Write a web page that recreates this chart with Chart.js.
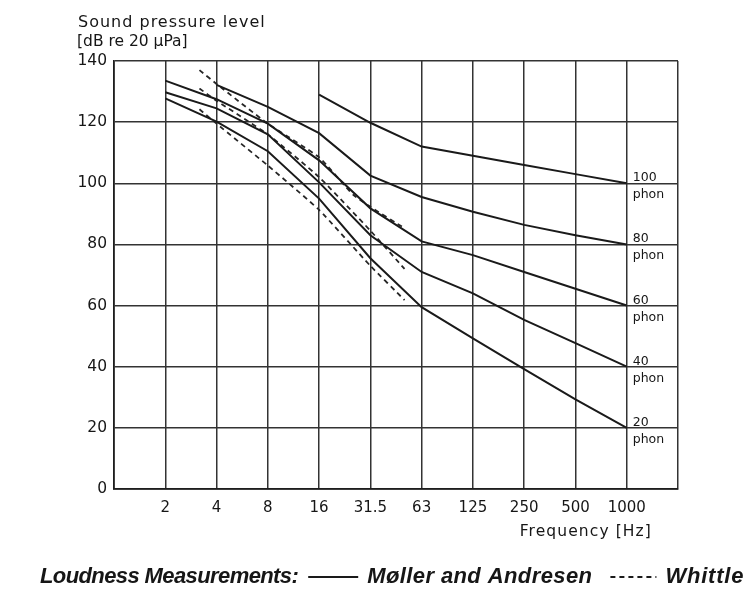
<!DOCTYPE html>
<html>
<head>
<meta charset="utf-8">
<script src="https://cdn.jsdelivr.net/npm/chart.js@4.4.1/dist/chart.umd.min.js"></script>
<style>
  html, body { margin: 0; padding: 0; background: #ffffff; }
  #wrap { width: 750px; height: 590px; position: relative; }
</style>
</head>
<body>
<div id="wrap"><canvas id="c" width="750" height="590"></canvas></div>
<script>
// ---- data ----
const freqTickLabels = ['2', '4', '8', '16', '31.5', '63', '125', '250', '500', '1000'];
const octaveHz = [2, 4, 8, 16, 31.5, 63, 125, 250, 500, 1000];

// Møller and Andresen, equal-loudness contours (dB re 20 µPa), null = not measured
const phon20  = [127.8, 120.2, 110.5, 95.0, 75.5, 59.5, 49.3, 39.2, 29.3, 20.0];
const phon40  = [129.8, 124.5, 116.0, 100.3, 83.0, 71.0, 64.0, 55.3, 47.7, 40.0];
const phon60  = [133.6, 127.5, 119.5, 107.5, 91.8, 81.0, 76.5, 71.0, 65.5, 60.0];
const phon80  = [null, 132.2, 125.0, 116.4, 102.5, 95.5, 90.7, 86.4, 83.0, 80.0];
const phon100 = [null, null, null, 129.0, 119.8, 112.0, 109.0, 106.0, 103.0, 100.0];

// Whittle (dashed), third-octave band frequencies
const whittleHz   = [3.15, 4, 8, 16, 25, 31.5, 50];
const whittleHigh = [137.0, 132.5, 119.5, 108.5, 96.2, 92.3, 85.3];
const whittleMid  = [131.0, 127.0, 116.0, 102.0, null, 84.5, 72.0];
const whittleLow  = [124.2, 119.5, 105.8, 91.3, null, 73.0, 61.8];

const yTickValues = [0, 20, 40, 60, 80, 100, 120, 140];
const phonLevels = [100, 80, 60, 40, 20];

// position on the octave-spaced axis (2 Hz = 1, 4 Hz = 2, ... 1000 Hz = 10)
function bandPos(f) { return 1 + Math.round(3 * Math.log2(f / 2)) / 3; }
function toPoints(freqs, vals) {
  const pts = [];
  freqs.forEach((f, i) => { if (vals[i] !== null) pts.push({ x: bandPos(f), y: vals[i] }); });
  return pts;
}

const INK = '#1a1a1a';
const solid = (label, vals) => ({
  label, data: toPoints(octaveHz, vals), borderColor: INK, borderWidth: 2,
  pointRadius: 0, tension: 0, fill: false
});
const dashed = (label, vals) => ({
  label, data: toPoints(whittleHz, vals), borderColor: '#262626', borderWidth: 1.8,
  borderDash: [5, 4], pointRadius: 0, tension: 0.15, fill: false
});

function spacedText(ctx, text, x, y, ls) {
  ctx.letterSpacing = ls + 'px';
  ctx.fillText(text, x, y);
  const w = ctx.measureText(text).width;
  ctx.letterSpacing = '0px';
  return x + w;
}

const textPlugin = {
  id: 'texts',
  afterDraw(chart) {
    const ctx = chart.ctx;
    const xs = chart.scales.x, ys = chart.scales.y;
    ctx.save();
    ctx.fillStyle = '#161616';
    ctx.textAlign = 'left';
    ctx.textBaseline = 'alphabetic';
    // y axis title (two lines)
    ctx.font = '16px "DejaVu Sans"';
    ctx.letterSpacing = '1px';
    ctx.fillText('Sound pressure level', 78, 27);
    ctx.letterSpacing = '0px';
    ctx.font = '15.5px "DejaVu Sans"';
    ctx.fillText('[dB re 20 \u03bcPa]', 77, 46);
    // x axis title
    ctx.font = '15.5px "DejaVu Sans"';
    ctx.textAlign = 'right';
    ctx.letterSpacing = '1.1px';
    ctx.fillText('Frequency [Hz]', 652, 536);
    ctx.letterSpacing = '0px';
    // phon labels
    ctx.textAlign = 'left';
    ctx.font = '12.5px "DejaVu Sans"';
    const lx = xs.getPixelForValue(10) + 6;
    phonLevels.forEach(p => {
      const py = ys.getPixelForValue(p);
      ctx.fillText(String(p), lx, py - 2);
      ctx.fillText('phon', lx, py + 15);
    });
    // legend
    const ly = 577;
    ctx.font = 'italic bold 22px "Liberation Sans", Arial, sans-serif';
    ctx.textBaseline = 'middle';
    let x = spacedText(ctx, 'Loudness Measurements:', 40, ly, -0.6);
    x += 10;
    ctx.strokeStyle = INK; ctx.lineWidth = 2; ctx.setLineDash([]);
    ctx.beginPath(); ctx.moveTo(x, ly); ctx.lineTo(x + 50, ly); ctx.stroke();
    x += 59;
    x = spacedText(ctx, 'M\u00f8ller and Andresen', x, ly, 0.4);
    x += 18;
    ctx.setLineDash([5, 4]);
    ctx.beginPath(); ctx.moveTo(x, ly); ctx.lineTo(x + 46, ly); ctx.stroke();
    ctx.setLineDash([]);
    x += 55;
    spacedText(ctx, 'Whittle', x, ly, 0.8);
    ctx.restore();
  }
};

new Chart(document.getElementById('c'), {
  type: 'line',
  data: {
    datasets: [
      solid('20 phon', phon20), solid('40 phon', phon40), solid('60 phon', phon60),
      solid('80 phon', phon80), solid('100 phon', phon100),
      dashed('Whittle high', whittleHigh), dashed('Whittle mid', whittleMid), dashed('Whittle low', whittleLow)
    ]
  },
  options: {
    responsive: false,
    animation: false,
    spanGaps: true,
    layout: { padding: { left: 0, right: 72, top: 61, bottom: 0 } },
    plugins: { legend: { display: false }, tooltip: { enabled: false }, title: { display: false } },
    scales: {
      x: {
        type: 'linear', min: 0, max: 11,
        afterFit(s) { s.height = 101; },
        afterBuildTicks(s) { s.ticks = Array.from({ length: 12 }, (_, i) => ({ value: i })); },
        ticks: {
          autoSkip: false, maxRotation: 0, padding: 10, color: '#161616',
          font: { family: 'DejaVu Sans', size: 15 },
          callback: v => (v >= 1 && v <= 10) ? freqTickLabels[v - 1] : ''
        },
        grid: { color: '#333333', lineWidth: 1.5, drawTicks: false },
        border: { color: '#1e1e1e', width: 1.7 }
      },
      y: {
        type: 'linear', min: 0, max: 140,
        afterFit(s) { s.width = 114; },
        afterBuildTicks(s) { s.ticks = yTickValues.map(v => ({ value: v })); },
        ticks: {
          padding: 7, color: '#161616',
          font: { family: 'DejaVu Sans', size: 15.5 }
        },
        grid: { color: '#333333', lineWidth: 1.5, drawTicks: false },
        border: { color: '#1e1e1e', width: 1.7 }
      }
    }
  },
  plugins: [textPlugin]
});
</script>
</body>
</html>
